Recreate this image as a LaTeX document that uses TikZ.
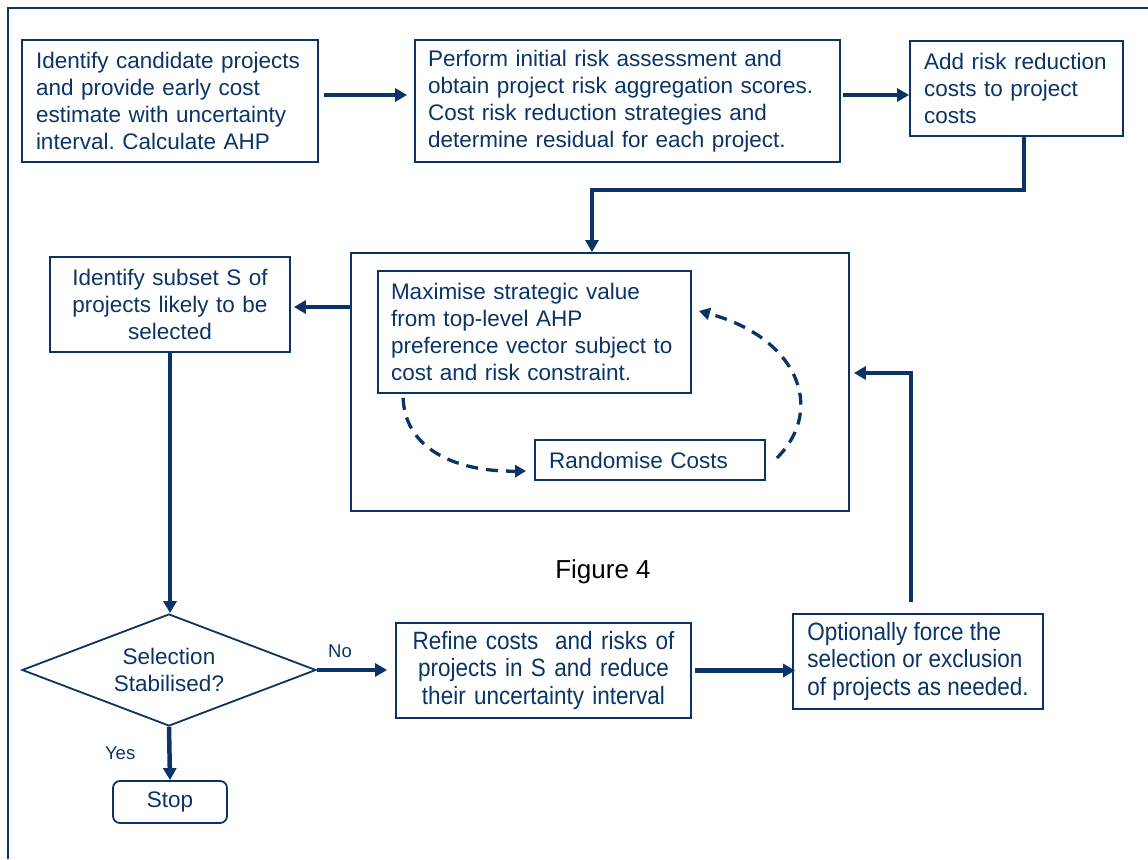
\documentclass[tikz,border=0pt]{standalone}
\usepackage{fontspec}
\setmainfont{Liberation Sans}
\newfontfamily\narrowf[FakeStretch=0.9]{Liberation Sans}
\usetikzlibrary{arrows.meta,shapes.geometric,calc}
\definecolor{navy}{RGB}{10,52,104}
\frenchspacing
\begin{document}
\begin{tikzpicture}[x=1pt,y=-1pt,
  every node/.style={text=navy},
  box/.style={draw=navy, line width=1.8pt, inner ysep=0pt, font=\fontsize{22.5pt}{27pt}\selectfont},
  lbox/.style={box, align=left},
  cbox/.style={box, align=center},
  nbox/.style={font=\narrowf\fontsize{25pt}{27.5pt}\selectfont},
  arr/.style={draw=navy, line width=4.5pt, -{Triangle[length=12pt,width=13pt]}},
  darr/.style={draw=navy, line width=3.3pt, dash pattern=on 12pt off 8pt, -{Triangle[length=11pt,width=12pt]}},
  lab/.style={font=\fontsize{18.5pt}{22pt}\selectfont, inner sep=0pt}
]
\useasboundingbox (0,0) rectangle (1148,859);
\draw[navy, line width=1.8pt] (8,859) -- (8,8) -- (1148,8);

\node[lbox, text width=268pt, inner xsep=14pt, minimum height=122pt] (A) at (170,101)
  {Identify candidate projects\\and provide early cost\\estimate with uncertainty\\interval. Calculate AHP};
\node[lbox, text width=399pt, inner xsep=13pt, minimum height=122pt] (B) at (627.5,101)
  {Perform initial risk assessment and\\obtain project risk aggregation scores.\\Cost risk reduction strategies and\\determine residual for each project.};
\node[lbox, text width=185pt, inner xsep=14pt, minimum height=95pt] (C) at (1016.5,88.5)
  {Add risk reduction\\costs to project\\costs};
\node[draw=navy, line width=1.8pt, minimum width=498pt, minimum height=258pt, inner sep=0pt] (D) at (600,382) {};
\node[lbox, text width=287pt, inner xsep=13pt, minimum height=122pt] (E) at (534.5,332)
  {Maximise strategic value\\from top-level AHP\\preference vector subject to\\cost and risk constraint.};
\node[lbox, text width=202pt, inner xsep=14pt, minimum height=40pt] (F) at (650,460)
  {Randomise Costs};
\node[cbox, text width=224pt, inner xsep=8pt, minimum height=95pt] (G) at (170,304.5)
  {Identify subset S of\\projects likely to be\\selected};
\node[box, shape=diamond, aspect=2.625, minimum width=294pt, minimum height=112pt, inner sep=0pt, align=center] (H) at (169,670)
  {Selection\\Stabilised?};
\node[cbox, nbox, text width=279pt, inner xsep=8pt, minimum height=95pt] (I) at (543.5,670.5)
  {Refine costs~ and risks of\\projects in S and reduce\\their uncertainty interval};
\node[lbox, nbox, minimum width=250pt, inner xsep=4pt, minimum height=95pt] (J) at (918,661.5)
  {Optionally force the\\selection or exclusion\\of projects as needed.};
\node[cbox, rounded corners=7pt, minimum width=114pt, minimum height=42pt] (S) at (170,802) {Stop};
\node[text=black, font=\fontsize{26pt}{30pt}\selectfont, inner sep=0pt] (fig) at (603,572) {Figure 4};

% connectors
\draw[arr] ([shift={(5pt,6pt)}]A.east) -- ([shift={(-7pt,6pt)}]B.west);
\draw[arr] ([shift={(2pt,6pt)}]B.east) -- ([yshift=6pt]B.east -| C.west);
\draw[arr] ([xshift=7.5pt]C.south) -- ++(0,53) -| ([xshift=-8pt]D.north);
\draw[arr] ([yshift=-2.5pt]G.east -| D.west) -- ([shift={(3pt,-2.5pt)}]G.east);
\draw[arr] (G.south) -- (G.south |- H.north);
\draw[arr] (H.east) -- ([xshift=-8pt]I.west |- H.east) node[lab, pos=0.33, above=10pt] (no) {No};
\draw[arr] ([xshift=3pt]I.east) -- ([xshift=3pt]I.east -| J.west);
\draw[arr] ([shift={(-7pt,11pt)}]J.north) |- ([shift={(4pt,9pt)}]D.east);
\draw[arr] (H.south) -- (S.north) node[lab, midway, left=32pt] (yes) {Yes};
\draw[darr] ([shift={(26pt,-4pt)}]E.south west) .. controls +(2,53) and +(-67,1) .. ([shift={(-8pt,-11pt)}]F.west);
\draw[darr] ([shift={(11pt,2pt)}]F.east) .. controls +(50,-50) and +(97,26) .. ([xshift=7pt,yshift=21pt]E.east);
\end{tikzpicture}
\end{document}
